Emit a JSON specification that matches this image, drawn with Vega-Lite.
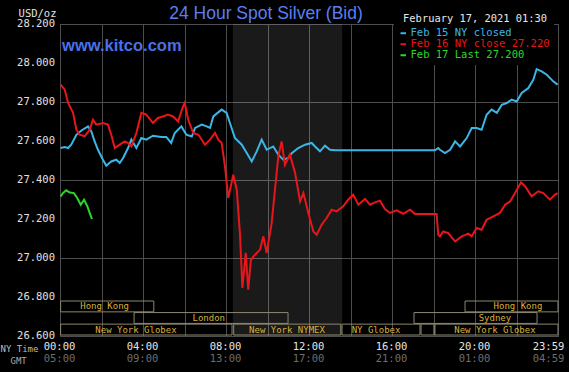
{
  "$schema": "https://vega.github.io/schema/vega-lite/v6.json",
  "width": 498,
  "height": 312,
  "autosize": "none",
  "padding": {"left": 60, "top": 24, "right": 11, "bottom": 36},
  "background": "#000000",
  "title": {"text": "24 Hour Spot Silver (Bid)", "anchor": "middle", "dx": -43, "dy": 33, "offset": 5, "baseline": "alphabetic", "font": "Liberation Sans", "fontSize": 17.5, "fontWeight": "normal", "color": "#5a7ff0"},
  "config": {"view": {"stroke": "#505050"}},
  "resolve": {"scale": {"y": "independent"}, "axis": {"x": "independent"}},
  "layer": [
    {
      "layer": [
        {
          "data": {"values": [{"start": 8.33, "end": 13.6}]},
          "mark": {"type": "rect", "fill": "#ffffff", "opacity": 0.1},
          "encoding": {
            "x": {"field": "start", "type": "quantitative", "scale": {"domain": [0, 24], "nice": false, "zero": false}},
            "x2": {"field": "end"}
          }
        },
        {
          "data": {"values": [
            {"series": "Feb 15 NY closed", "hour": 0.03, "price": 27.564},
            {"series": "Feb 15 NY closed", "hour": 0.23, "price": 27.569},
            {"series": "Feb 15 NY closed", "hour": 0.39, "price": 27.564},
            {"series": "Feb 15 NY closed", "hour": 0.54, "price": 27.581},
            {"series": "Feb 15 NY closed", "hour": 0.79, "price": 27.632},
            {"series": "Feb 15 NY closed", "hour": 1.03, "price": 27.654},
            {"series": "Feb 15 NY closed", "hour": 1.35, "price": 27.675},
            {"series": "Feb 15 NY closed", "hour": 1.51, "price": 27.649},
            {"series": "Feb 15 NY closed", "hour": 1.67, "price": 27.598},
            {"series": "Feb 15 NY closed", "hour": 1.83, "price": 27.555},
            {"series": "Feb 15 NY closed", "hour": 2.07, "price": 27.504},
            {"series": "Feb 15 NY closed", "hour": 2.23, "price": 27.473},
            {"series": "Feb 15 NY closed", "hour": 2.47, "price": 27.495},
            {"series": "Feb 15 NY closed", "hour": 2.71, "price": 27.504},
            {"series": "Feb 15 NY closed", "hour": 2.88, "price": 27.487},
            {"series": "Feb 15 NY closed", "hour": 3.04, "price": 27.513},
            {"series": "Feb 15 NY closed", "hour": 3.28, "price": 27.564},
            {"series": "Feb 15 NY closed", "hour": 3.44, "price": 27.607},
            {"series": "Feb 15 NY closed", "hour": 3.68, "price": 27.564},
            {"series": "Feb 15 NY closed", "hour": 3.92, "price": 27.615},
            {"series": "Feb 15 NY closed", "hour": 4.16, "price": 27.607},
            {"series": "Feb 15 NY closed", "hour": 4.48, "price": 27.627},
            {"series": "Feb 15 NY closed", "hour": 4.88, "price": 27.621},
            {"series": "Feb 15 NY closed", "hour": 5.12, "price": 27.621},
            {"series": "Feb 15 NY closed", "hour": 5.36, "price": 27.59},
            {"series": "Feb 15 NY closed", "hour": 5.53, "price": 27.641},
            {"series": "Feb 15 NY closed", "hour": 5.85, "price": 27.675},
            {"series": "Feb 15 NY closed", "hour": 6.09, "price": 27.632},
            {"series": "Feb 15 NY closed", "hour": 6.35, "price": 27.623},
            {"series": "Feb 15 NY closed", "hour": 6.51, "price": 27.667},
            {"series": "Feb 15 NY closed", "hour": 6.83, "price": 27.684},
            {"series": "Feb 15 NY closed", "hour": 7.07, "price": 27.675},
            {"series": "Feb 15 NY closed", "hour": 7.23, "price": 27.667},
            {"series": "Feb 15 NY closed", "hour": 7.39, "price": 27.726},
            {"series": "Feb 15 NY closed", "hour": 7.79, "price": 27.761},
            {"series": "Feb 15 NY closed", "hour": 8.03, "price": 27.744},
            {"series": "Feb 15 NY closed", "hour": 8.19, "price": 27.692},
            {"series": "Feb 15 NY closed", "hour": 8.43, "price": 27.615},
            {"series": "Feb 15 NY closed", "hour": 8.76, "price": 27.581},
            {"series": "Feb 15 NY closed", "hour": 9.0, "price": 27.538},
            {"series": "Feb 15 NY closed", "hour": 9.24, "price": 27.495},
            {"series": "Feb 15 NY closed", "hour": 9.48, "price": 27.547},
            {"series": "Feb 15 NY closed", "hour": 9.72, "price": 27.607},
            {"series": "Feb 15 NY closed", "hour": 9.96, "price": 27.555},
            {"series": "Feb 15 NY closed", "hour": 10.28, "price": 27.572},
            {"series": "Feb 15 NY closed", "hour": 10.52, "price": 27.53},
            {"series": "Feb 15 NY closed", "hour": 10.76, "price": 27.504},
            {"series": "Feb 15 NY closed", "hour": 11.0, "price": 27.513},
            {"series": "Feb 15 NY closed", "hour": 11.17, "price": 27.538},
            {"series": "Feb 15 NY closed", "hour": 11.48, "price": 27.564},
            {"series": "Feb 15 NY closed", "hour": 11.81, "price": 27.581},
            {"series": "Feb 15 NY closed", "hour": 12.13, "price": 27.59},
            {"series": "Feb 15 NY closed", "hour": 12.29, "price": 27.572},
            {"series": "Feb 15 NY closed", "hour": 12.53, "price": 27.547},
            {"series": "Feb 15 NY closed", "hour": 12.77, "price": 27.576},
            {"series": "Feb 15 NY closed", "hour": 13.01, "price": 27.555},
            {"series": "Feb 15 NY closed", "hour": 13.25, "price": 27.552},
            {"series": "Feb 15 NY closed", "hour": 18.07, "price": 27.552},
            {"series": "Feb 15 NY closed", "hour": 18.23, "price": 27.564},
            {"series": "Feb 15 NY closed", "hour": 18.31, "price": 27.555},
            {"series": "Feb 15 NY closed", "hour": 18.55, "price": 27.538},
            {"series": "Feb 15 NY closed", "hour": 18.8, "price": 27.555},
            {"series": "Feb 15 NY closed", "hour": 19.04, "price": 27.598},
            {"series": "Feb 15 NY closed", "hour": 19.28, "price": 27.572},
            {"series": "Feb 15 NY closed", "hour": 19.6, "price": 27.615},
            {"series": "Feb 15 NY closed", "hour": 19.84, "price": 27.667},
            {"series": "Feb 15 NY closed", "hour": 20.08, "price": 27.667},
            {"series": "Feb 15 NY closed", "hour": 20.32, "price": 27.658},
            {"series": "Feb 15 NY closed", "hour": 20.56, "price": 27.735},
            {"series": "Feb 15 NY closed", "hour": 20.8, "price": 27.761},
            {"series": "Feb 15 NY closed", "hour": 21.05, "price": 27.744},
            {"series": "Feb 15 NY closed", "hour": 21.29, "price": 27.786},
            {"series": "Feb 15 NY closed", "hour": 21.53, "price": 27.795},
            {"series": "Feb 15 NY closed", "hour": 21.77, "price": 27.812},
            {"series": "Feb 15 NY closed", "hour": 22.01, "price": 27.803},
            {"series": "Feb 15 NY closed", "hour": 22.25, "price": 27.846},
            {"series": "Feb 15 NY closed", "hour": 22.57, "price": 27.872},
            {"series": "Feb 15 NY closed", "hour": 22.81, "price": 27.914},
            {"series": "Feb 15 NY closed", "hour": 22.97, "price": 27.969},
            {"series": "Feb 15 NY closed", "hour": 23.21, "price": 27.957},
            {"series": "Feb 15 NY closed", "hour": 23.46, "price": 27.94},
            {"series": "Feb 15 NY closed", "hour": 23.77, "price": 27.906},
            {"series": "Feb 15 NY closed", "hour": 23.98, "price": 27.889},
            {"series": "Feb 16 NY close 27.220", "hour": 0.03, "price": 27.889},
            {"series": "Feb 16 NY close 27.220", "hour": 0.23, "price": 27.863},
            {"series": "Feb 16 NY close 27.220", "hour": 0.39, "price": 27.795},
            {"series": "Feb 16 NY close 27.220", "hour": 0.63, "price": 27.744},
            {"series": "Feb 16 NY close 27.220", "hour": 0.79, "price": 27.658},
            {"series": "Feb 16 NY close 27.220", "hour": 0.95, "price": 27.632},
            {"series": "Feb 16 NY close 27.220", "hour": 1.19, "price": 27.624},
            {"series": "Feb 16 NY close 27.220", "hour": 1.43, "price": 27.658},
            {"series": "Feb 16 NY close 27.220", "hour": 1.59, "price": 27.709},
            {"series": "Feb 16 NY close 27.220", "hour": 1.75, "price": 27.684},
            {"series": "Feb 16 NY close 27.220", "hour": 2.07, "price": 27.692},
            {"series": "Feb 16 NY close 27.220", "hour": 2.31, "price": 27.684},
            {"series": "Feb 16 NY close 27.220", "hour": 2.47, "price": 27.632},
            {"series": "Feb 16 NY close 27.220", "hour": 2.64, "price": 27.564},
            {"series": "Feb 16 NY close 27.220", "hour": 2.88, "price": 27.581},
            {"series": "Feb 16 NY close 27.220", "hour": 3.12, "price": 27.598},
            {"series": "Feb 16 NY close 27.220", "hour": 3.28, "price": 27.59},
            {"series": "Feb 16 NY close 27.220", "hour": 3.44, "price": 27.572},
            {"series": "Feb 16 NY close 27.220", "hour": 3.68, "price": 27.641},
            {"series": "Feb 16 NY close 27.220", "hour": 3.92, "price": 27.744},
            {"series": "Feb 16 NY close 27.220", "hour": 4.16, "price": 27.735},
            {"series": "Feb 16 NY close 27.220", "hour": 4.48, "price": 27.692},
            {"series": "Feb 16 NY close 27.220", "hour": 4.72, "price": 27.718},
            {"series": "Feb 16 NY close 27.220", "hour": 4.96, "price": 27.726},
            {"series": "Feb 16 NY close 27.220", "hour": 5.2, "price": 27.735},
            {"series": "Feb 16 NY close 27.220", "hour": 5.45, "price": 27.726},
            {"series": "Feb 16 NY close 27.220", "hour": 5.69, "price": 27.701},
            {"series": "Feb 16 NY close 27.220", "hour": 5.93, "price": 27.777},
            {"series": "Feb 16 NY close 27.220", "hour": 6.01, "price": 27.795},
            {"series": "Feb 16 NY close 27.220", "hour": 6.18, "price": 27.709},
            {"series": "Feb 16 NY close 27.220", "hour": 6.42, "price": 27.641},
            {"series": "Feb 16 NY close 27.220", "hour": 6.67, "price": 27.632},
            {"series": "Feb 16 NY close 27.220", "hour": 6.99, "price": 27.581},
            {"series": "Feb 16 NY close 27.220", "hour": 7.23, "price": 27.607},
            {"series": "Feb 16 NY close 27.220", "hour": 7.47, "price": 27.641},
            {"series": "Feb 16 NY close 27.220", "hour": 7.63, "price": 27.607},
            {"series": "Feb 16 NY close 27.220", "hour": 7.79, "price": 27.59},
            {"series": "Feb 16 NY close 27.220", "hour": 7.95, "price": 27.47},
            {"series": "Feb 16 NY close 27.220", "hour": 8.11, "price": 27.308},
            {"series": "Feb 16 NY close 27.220", "hour": 8.35, "price": 27.427},
            {"series": "Feb 16 NY close 27.220", "hour": 8.52, "price": 27.35},
            {"series": "Feb 16 NY close 27.220", "hour": 8.67, "price": 27.128},
            {"series": "Feb 16 NY close 27.220", "hour": 8.79, "price": 26.846},
            {"series": "Feb 16 NY close 27.220", "hour": 8.95, "price": 27.026},
            {"series": "Feb 16 NY close 27.220", "hour": 9.07, "price": 26.837},
            {"series": "Feb 16 NY close 27.220", "hour": 9.2, "price": 26.991},
            {"series": "Feb 16 NY close 27.220", "hour": 9.4, "price": 27.017},
            {"series": "Feb 16 NY close 27.220", "hour": 9.64, "price": 27.043},
            {"series": "Feb 16 NY close 27.220", "hour": 9.8, "price": 27.111},
            {"series": "Feb 16 NY close 27.220", "hour": 9.96, "price": 27.026},
            {"series": "Feb 16 NY close 27.220", "hour": 10.2, "price": 27.179},
            {"series": "Feb 16 NY close 27.220", "hour": 10.36, "price": 27.35},
            {"series": "Feb 16 NY close 27.220", "hour": 10.52, "price": 27.521},
            {"series": "Feb 16 NY close 27.220", "hour": 10.68, "price": 27.598},
            {"series": "Feb 16 NY close 27.220", "hour": 10.84, "price": 27.478},
            {"series": "Feb 16 NY close 27.220", "hour": 11.08, "price": 27.53},
            {"series": "Feb 16 NY close 27.220", "hour": 11.33, "price": 27.436},
            {"series": "Feb 16 NY close 27.220", "hour": 11.57, "price": 27.29},
            {"series": "Feb 16 NY close 27.220", "hour": 11.73, "price": 27.333},
            {"series": "Feb 16 NY close 27.220", "hour": 11.97, "price": 27.231},
            {"series": "Feb 16 NY close 27.220", "hour": 12.21, "price": 27.136},
            {"series": "Feb 16 NY close 27.220", "hour": 12.37, "price": 27.119},
            {"series": "Feb 16 NY close 27.220", "hour": 12.61, "price": 27.171},
            {"series": "Feb 16 NY close 27.220", "hour": 12.85, "price": 27.205},
            {"series": "Feb 16 NY close 27.220", "hour": 13.09, "price": 27.248},
            {"series": "Feb 16 NY close 27.220", "hour": 13.33, "price": 27.239},
            {"series": "Feb 16 NY close 27.220", "hour": 13.65, "price": 27.265},
            {"series": "Feb 16 NY close 27.220", "hour": 13.89, "price": 27.299},
            {"series": "Feb 16 NY close 27.220", "hour": 14.13, "price": 27.325},
            {"series": "Feb 16 NY close 27.220", "hour": 14.38, "price": 27.273},
            {"series": "Feb 16 NY close 27.220", "hour": 14.7, "price": 27.303},
            {"series": "Feb 16 NY close 27.220", "hour": 14.94, "price": 27.273},
            {"series": "Feb 16 NY close 27.220", "hour": 15.18, "price": 27.285},
            {"series": "Feb 16 NY close 27.220", "hour": 15.42, "price": 27.294},
            {"series": "Feb 16 NY close 27.220", "hour": 15.66, "price": 27.251},
            {"series": "Feb 16 NY close 27.220", "hour": 15.9, "price": 27.231},
            {"series": "Feb 16 NY close 27.220", "hour": 16.23, "price": 27.244},
            {"series": "Feb 16 NY close 27.220", "hour": 16.54, "price": 27.227},
            {"series": "Feb 16 NY close 27.220", "hour": 16.87, "price": 27.248},
            {"series": "Feb 16 NY close 27.220", "hour": 17.11, "price": 27.226},
            {"series": "Feb 16 NY close 27.220", "hour": 18.15, "price": 27.226},
            {"series": "Feb 16 NY close 27.220", "hour": 18.23, "price": 27.119},
            {"series": "Feb 16 NY close 27.220", "hour": 18.31, "price": 27.111},
            {"series": "Feb 16 NY close 27.220", "hour": 18.47, "price": 27.136},
            {"series": "Feb 16 NY close 27.220", "hour": 18.71, "price": 27.128},
            {"series": "Feb 16 NY close 27.220", "hour": 19.04, "price": 27.085},
            {"series": "Feb 16 NY close 27.220", "hour": 19.36, "price": 27.111},
            {"series": "Feb 16 NY close 27.220", "hour": 19.68, "price": 27.125},
            {"series": "Feb 16 NY close 27.220", "hour": 19.84, "price": 27.111},
            {"series": "Feb 16 NY close 27.220", "hour": 20.08, "price": 27.154},
            {"series": "Feb 16 NY close 27.220", "hour": 20.32, "price": 27.145},
            {"series": "Feb 16 NY close 27.220", "hour": 20.56, "price": 27.196},
            {"series": "Feb 16 NY close 27.220", "hour": 20.88, "price": 27.213},
            {"series": "Feb 16 NY close 27.220", "hour": 21.2, "price": 27.231},
            {"series": "Feb 16 NY close 27.220", "hour": 21.45, "price": 27.273},
            {"series": "Feb 16 NY close 27.220", "hour": 21.69, "price": 27.29},
            {"series": "Feb 16 NY close 27.220", "hour": 21.93, "price": 27.333},
            {"series": "Feb 16 NY close 27.220", "hour": 22.22, "price": 27.388},
            {"series": "Feb 16 NY close 27.220", "hour": 22.41, "price": 27.368},
            {"series": "Feb 16 NY close 27.220", "hour": 22.73, "price": 27.316},
            {"series": "Feb 16 NY close 27.220", "hour": 23.05, "price": 27.342},
            {"series": "Feb 16 NY close 27.220", "hour": 23.29, "price": 27.333},
            {"series": "Feb 16 NY close 27.220", "hour": 23.61, "price": 27.299},
            {"series": "Feb 16 NY close 27.220", "hour": 23.86, "price": 27.325},
            {"series": "Feb 16 NY close 27.220", "hour": 23.98, "price": 27.333},
            {"series": "Feb 17 Last 27.200", "hour": 0.03, "price": 27.316},
            {"series": "Feb 17 Last 27.200", "hour": 0.14, "price": 27.333},
            {"series": "Feb 17 Last 27.200", "hour": 0.3, "price": 27.347},
            {"series": "Feb 17 Last 27.200", "hour": 0.47, "price": 27.336},
            {"series": "Feb 17 Last 27.200", "hour": 0.67, "price": 27.333},
            {"series": "Feb 17 Last 27.200", "hour": 0.83, "price": 27.308},
            {"series": "Feb 17 Last 27.200", "hour": 1.0, "price": 27.273},
            {"series": "Feb 17 Last 27.200", "hour": 1.16, "price": 27.299},
            {"series": "Feb 17 Last 27.200", "hour": 1.32, "price": 27.265},
            {"series": "Feb 17 Last 27.200", "hour": 1.43, "price": 27.231},
            {"series": "Feb 17 Last 27.200", "hour": 1.54, "price": 27.2}
          ]},
          "mark": {"type": "line", "strokeWidth": 2},
          "encoding": {
            "x": {
              "field": "hour", "type": "quantitative",
              "scale": {"domain": [0, 24], "nice": false, "zero": false},
              "axis": {
                "title": "NY Time", "orient": "bottom",
                "values": [0, 2, 4, 6, 8, 10, 12, 14, 16, 18, 20, 22, 24],
                "labelExpr": "datum.value % 4 != 0 ? '' : datum.value == 24 ? '23:59' : (datum.value < 10 ? '0' : '') + datum.value + ':00'",
                "grid": true, "gridColor": "#4d4d4d", "domain": false, "ticks": false,
                "labelPadding": 5, "labelFont": "DejaVu Sans Mono", "labelFontSize": 10.5, "labelColor": "#e6e6e6",
                "labelOverlap": false, "labelFlush": false,
                "labelOffset": {"condition": {"test": "datum.value == 24", "value": -10}, "value": -1},
                "titleFont": "DejaVu Sans Mono", "titleFontSize": 9, "titleColor": "#bdbdbd", "titleFontWeight": "normal",
                "titleAlign": "left", "titleAnchor": "start", "titleX": -60, "titleY": 12, "titleBaseline": "middle"
              }
            },
            "y": {
              "field": "price", "type": "quantitative",
              "scale": {"domain": [26.6, 28.2], "nice": false, "zero": false},
              "axis": {
                "title": "USD/oz",
                "values": [26.6, 26.8, 27.0, 27.2, 27.4, 27.6, 27.8, 28.0, 28.2],
                "labels": false,
                "grid": true, "gridColor": "#4d4d4d", "domain": false, "ticks": false,
                "titleAngle": 0, "titleAlign": "right", "titleBaseline": "middle", "titleX": -4, "titleY": -11,
                "titleFont": "DejaVu Sans Mono", "titleFontSize": 10.5, "titleFontWeight": "normal", "titleColor": "#e0e0e0"
              }
            },
            "color": {
              "field": "series", "type": "nominal",
              "scale": {"domain": ["Feb 15 NY closed", "Feb 16 NY close 27.220", "Feb 17 Last 27.200"], "range": ["#3bb6e6", "#e8161a", "#2ad82a"]},
              "legend": {
                "title": null, "orient": "none", "legendX": 334, "legendY": 0,
                "fillColor": "#000000", "padding": 4, "symbolType": "stroke", "symbolSize": 30, "symbolStrokeWidth": 2,
                "labelFont": "DejaVu Sans Mono", "labelFontSize": 10.5, "labelOffset": 2, "rowPadding": 0, "labelLimit": 300,
                "encode": {"labels": {"update": {"fill": {"scale": "color", "field": "value"}}}}
              }
            }
          }
        },
        {
          "data": {"values": [
            {"price": 26.6, "label": "26.600"}, {"price": 26.8, "label": "26.800"}, {"price": 27.0, "label": "27.000"},
            {"price": 27.2, "label": "27.200"}, {"price": 27.4, "label": "27.400"}, {"price": 27.6, "label": "27.600"},
            {"price": 27.8, "label": "27.800"}, {"price": 28.0, "label": "28.000"}, {"price": 28.2, "label": "28.200"}
          ]},
          "mark": {"type": "text", "align": "right", "baseline": "middle", "font": "DejaVu Sans Mono", "fontSize": 10.5, "color": "#e0e0e0"},
          "encoding": {
            "x": {"datum": -0.241, "type": "quantitative"},
            "y": {"field": "price", "type": "quantitative"},
            "text": {"field": "label"}
          }
        },
        {
          "data": {"values": [{"text": "www.kitco.com"}]},
          "mark": {"type": "text", "align": "left", "baseline": "middle", "font": "Liberation Sans", "fontSize": 16.5, "fontWeight": "bold", "color": "#4a70e8"},
          "encoding": {
            "x": {"datum": 0.1, "type": "quantitative"},
            "y": {"datum": 28.087, "type": "quantitative"},
            "text": {"field": "text"}
          }
        },
        {
          "data": {"values": [{"text": "February 17, 2021 01:30"}]},
          "mark": {"type": "text", "align": "right", "baseline": "middle", "font": "DejaVu Sans Mono", "fontSize": 10.4, "color": "#e8e8e8"},
          "encoding": {
            "x": {"datum": 23.47, "type": "quantitative"},
            "y": {"datum": 28.2256, "type": "quantitative"},
            "text": {"field": "text"}
          }
        }
      ]
    },
    {
      "data": {"values": [
        {"name": "Hong Kong", "row": 1, "start": 0.03, "end": 4.52, "mid": 2.15},
        {"name": "Hong Kong", "row": 1, "start": 19.52, "end": 24, "mid": 22.07},
        {"name": "London", "row": 2, "start": 3.57, "end": 10.99, "mid": 7.17},
        {"name": "Sydney", "row": 2, "start": 17.06, "end": 22.99, "mid": 20.96},
        {"name": "New York Globex", "row": 3, "start": 0.03, "end": 8.29, "mid": 3.66},
        {"name": "New York NYMEX", "row": 3, "start": 8.37, "end": 13.53, "mid": 10.94},
        {"name": "NY Globex", "row": 3, "start": 13.59, "end": 17.35, "mid": 15.23},
        {"name": "", "row": 3, "start": 17.4, "end": 18.02, "mid": 17.7},
        {"name": "New York Globex", "row": 3, "start": 18.07, "end": 24, "mid": 20.96}
      ]},
      "layer": [
        {
          "mark": {"type": "rect", "fill": "transparent", "stroke": "#8c8870", "strokeWidth": 1},
          "encoding": {
            "x": {
              "field": "start", "type": "quantitative",
              "scale": {"domain": [0, 24], "nice": false, "zero": false},
              "axis": {
                "title": "GMT", "orient": "bottom",
                "values": [0, 4, 8, 12, 16, 20, 24],
                "labelExpr": "datum.value == 24 ? '04:59' : ((datum.value + 5) % 24 < 10 ? '0' : '') + ((datum.value + 5) % 24) + ':00'",
                "grid": false, "domain": false, "ticks": false,
                "labelPadding": 17, "labelFont": "DejaVu Sans Mono", "labelFontSize": 10.5, "labelColor": "#6e6e6e",
                "labelOverlap": false, "labelFlush": false,
                "labelOffset": {"condition": {"test": "datum.value == 24", "value": -10}, "value": -1},
                "titleFont": "DejaVu Sans Mono", "titleFontSize": 9, "titleColor": "#a8a8a8", "titleFontWeight": "normal",
                "titleAlign": "left", "titleAnchor": "start", "titleX": -50, "titleY": 24, "titleBaseline": "middle"
              }
            },
            "x2": {"field": "end"},
            "y": {"field": "row", "type": "ordinal", "scale": {"domain": [1, 2, 3], "range": [277, 311], "paddingInner": 0.06, "paddingOuter": 0}, "axis": null}
          }
        },
        {
          "mark": {"type": "text", "font": "DejaVu Sans Mono", "fontSize": 9, "color": "#d8b23c", "baseline": "middle"},
          "encoding": {
            "x": {"field": "mid", "type": "quantitative"},
            "y": {"field": "row", "type": "ordinal", "axis": null},
            "text": {"field": "name"}
          }
        }
      ]
    }
  ]
}
